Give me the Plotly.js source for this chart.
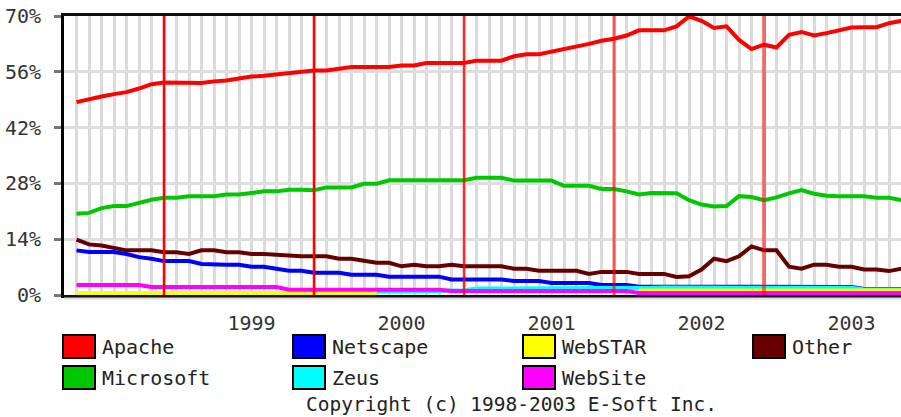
<!DOCTYPE html>
<html>
<head>
<meta charset="utf-8">
<script src="https://cdn.plot.ly/plotly-3.0.1.min.js"></script>
<style>html,body{margin:0;padding:0;background:#fff;}#chart{width:901px;height:417px;}</style>
</head>
<body>
<div id="chart"></div>
<script>
// ---- data (monthly samples, index 0 = first sample) ----
const apache = [48.4,49.2,49.8,50.4,50.9,51.8,52.9,53.3,53.2,53.2,53.2,53.6,53.8,54.3,54.8,55.0,55.3,55.6,56.1,56.3,56.3,56.8,57.2,57.2,57.2,57.2,57.6,57.6,58.2,58.2,58.2,58.2,58.8,58.8,58.8,59.9,60.4,60.4,61.0,61.7,62.2,63.0,63.8,64.3,65.1,66.4,66.4,66.4,67.4,69.9,68.8,67.0,67.4,64.0,61.7,62.8,62.1,65.3,66.0,65.1,65.7,66.3,67.1,67.2,67.2,68.2,68.8];
const microsoft = [20.4,20.6,21.8,22.3,22.3,23.1,23.9,24.4,24.4,24.8,24.8,24.8,25.2,25.2,25.6,26.0,26.0,26.4,26.4,26.3,27.0,27.0,27.0,27.9,27.9,28.8,28.8,28.8,28.8,28.8,28.8,28.8,29.4,29.4,29.4,28.7,28.7,28.7,28.7,27.4,27.4,27.4,26.6,26.6,26.0,25.2,25.6,25.6,25.5,23.8,22.7,22.2,22.3,24.8,24.6,23.8,24.5,25.5,26.3,25.4,24.9,24.8,24.8,24.8,24.4,24.4,23.8];
const netscape = [11.2,10.8,10.8,10.8,10.3,9.5,9.1,8.5,8.5,8.5,7.8,7.6,7.6,7.6,7.1,7.1,6.6,6.1,6.1,5.6,5.6,5.6,5.1,5.1,5.1,4.6,4.6,4.6,4.6,4.6,3.9,3.9,3.9,3.9,3.9,3.5,3.5,3.5,3.0,3.0,3.0,3.0,2.5,2.5,2.5,2.1,2.1,2.1,2.1,2.0,2.0,2.0,2.0,2.0,2.0,2.0,2.0,2.0,2.0,2.0,2.0,2.0,2.0,1.5,1.5,1.5,1.5];
const zeus = [null,null,null,null,null,null,null,null,null,null,null,null,null,null,null,null,null,null,null,null,null,null,null,null,0.8,0.8,0.9,0.9,1.0,1.0,1.1,1.2,1.6,1.6,1.6,1.6,1.6,1.6,1.6,1.6,1.6,1.6,1.6,1.6,1.7,1.8,1.8,1.9,1.9,1.9,1.8,1.8,1.8,1.8,1.8,1.8,1.8,1.8,1.8,1.8,1.8,1.8,1.8,1.4,1.4,1.4,1.4];
const webstar = [0.5,0.5,0.5,0.5,0.5,0.5,0.5,0.5,0.5,0.5,0.5,0.5,0.5,0.5,0.5,0.5,0.5,0.5,0.5,0.5,0.5,0.5,0.5,0.5,0.5,null,null,null,null,null,null,null,null,null,null,null,null,null,null,null,null,null,null,null,null,1.1,1.1,1.1,1.1,1.1,1.1,1.1,1.1,1.1,1.1,1.1,1.1,1.1,1.1,1.1,1.1,1.1,1.1,1.1,1.1,1.1,1.1];
const website = [2.5,2.5,2.5,2.5,2.5,2.5,2.0,2.0,2.0,2.0,2.0,2.0,2.0,2.0,2.0,2.0,2.0,1.3,1.3,1.3,1.3,1.3,1.3,1.3,1.3,1.3,1.3,1.3,1.3,1.3,1.0,1.0,1.0,1.0,1.0,1.0,1.0,1.0,1.0,1.0,1.0,1.0,1.0,1.0,1.0,0.5,0.5,0.5,0.5,0.5,0.5,0.5,0.5,0.5,0.5,0.5,0.5,0.5,0.5,0.5,0.5,0.5,0.5,0.5,0.5,0.5,0.5];
const other = [13.9,12.7,12.4,11.8,11.2,11.2,11.2,10.7,10.7,10.3,11.2,11.2,10.7,10.7,10.3,10.3,10.1,9.7,9.7,9.7,9.7,9.1,9.1,8.6,8.1,8.1,7.2,7.6,7.2,7.2,7.6,7.2,7.2,7.2,7.2,6.6,6.6,6.1,6.1,6.1,6.1,5.3,5.8,5.8,5.8,5.3,5.3,5.3,4.5,4.7,6.4,9.1,8.5,9.7,12.2,11.2,11.2,7.1,6.6,7.6,7.6,7.1,7.1,6.4,6.4,6.0,6.6];

const yearTickPos = [14, 26, 38, 50, 62];
const yearTickText = ['1999', '2000', '2001', '2002', '2003'];
const redMarks = [7, 19, 31, 43, 55];

const seriesNames = ['Apache', 'Microsoft', 'Netscape', 'Zeus', 'WebSTAR', 'WebSite', 'Other'];
const seriesData  = [apache, microsoft, netscape, zeus, webstar, website, other];

// ---- styles ----
const seriesColors = ['#ff0000', '#00c800', '#0000ff', '#00ffff', '#ffff00', '#ff00ff', '#660000'];
const drawOrder = [6, 2, 3, 4, 5, 1, 0];
const redStyles = [
  {c: 'rgba(255,0,0,1)', w: 2.5},
  {c: 'rgba(255,0,0,1)', w: 2.5},
  {c: 'rgba(255,0,0,0.8)', w: 2.5},
  {c: 'rgba(255,0,0,0.6)', w: 3},
  {c: 'rgba(255,0,0,0.5)', w: 4}
];

const W = 901, H = 417, L = 64, R = 0, T = 16, B = 122;
const px = x => (x - L) / (W - L - R);
const py = y => (H - B - y) / (H - T - B);
const FONT = 'DejaVu Sans Mono';

const xIdx = apache.map((_, i) => i);

const traces = drawOrder.map(k => ({
  type: 'scatter', mode: 'lines',
  x: xIdx, y: seriesData[k], name: seriesNames[k],
  line: {color: seriesColors[k], width: 4},
  connectgaps: false, showlegend: false, hoverinfo: 'skip'
}));

const shapes = redMarks.map((m, j) => ({
  type: 'line', xref: 'x', yref: 'paper', x0: m, x1: m, y0: 0, y1: 1,
  line: {color: redStyles[j].c, width: redStyles[j].w}, layer: 'above'
}));
// light band just under the bottom axis
shapes.push({type: 'line', xref: 'paper', yref: 'paper', x0: 0, x1: 1, y0: py(298.5), y1: py(298.5),
  line: {color: '#dddddd', width: 2}, layer: 'above'});
const annotations = [];

// legend grid: columns / rows
const legendCols = [63, 293, 523, 753];
const legendRows = [346.5, 377.5];
const legendLayout = [[0, 0], [0, 1], [1, 0], [1, 1], [2, 0], [2, 1], [3, 0]]; // [col,row] for each series
seriesNames.forEach((n, k) => {
  const [c, r] = legendLayout[k];
  const x0 = legendCols[c], yc = legendRows[r];
  shapes.push({type: 'rect', xref: 'paper', yref: 'paper',
    x0: px(x0), x1: px(x0 + 32), y0: py(yc + 11.5), y1: py(yc - 11.5),
    fillcolor: seriesColors[k], line: {color: '#000', width: 2}, layer: 'above'});
  annotations.push({xref: 'paper', yref: 'paper', x: px(x0 + 37), y: py(yc),
    xanchor: 'left', yanchor: 'middle', showarrow: false, text: n,
    font: {family: FONT, size: 20, color: '#222'}});
});
annotations.push({xref: 'paper', yref: 'paper', x: px(511), y: py(404.5),
  xanchor: 'center', yanchor: 'middle', showarrow: false,
  text: 'Copyright (c) 1998-2003 E-Soft Inc.',
  font: {family: FONT, size: 19.5, color: '#222'}});

const layout = {
  width: W, height: H,
  margin: {l: L, r: R, t: T, b: B, pad: 0},
  paper_bgcolor: '#ffffff', plot_bgcolor: '#ffffff',
  showlegend: false,
  xaxis: {
    range: [-1, 65.96], fixedrange: true,
    tickmode: 'array', tickvals: yearTickPos, ticktext: yearTickText,
    ticks: '', ticklabelstandoff: 8,
    tickfont: {family: FONT, size: 20, color: '#333'},
    showgrid: true, gridcolor: '#dadada', gridwidth: 3,
    minor: {tick0: 0, dtick: 1, showgrid: true, gridcolor: '#dadada', gridwidth: 3, ticks: ''},
    showline: true, linecolor: '#111', linewidth: 3, mirror: true,
    zeroline: false
  },
  yaxis: {
    range: [0, 70], fixedrange: true,
    tick0: 0, dtick: 14, ticksuffix: '%',
    ticks: 'outside', ticklen: 7, tickwidth: 3, tickcolor: '#777',
    ticklabelstandoff: 9,
    tickfont: {family: FONT, size: 20, color: '#333'},
    showgrid: true, gridcolor: '#dedede', gridwidth: 3,
    showline: true, linecolor: '#000', linewidth: 3,
    zeroline: false
  },
  shapes: shapes,
  annotations: annotations
};

Plotly.newPlot('chart', traces, layout, {staticPlot: true, displayModeBar: false});
</script>
</body>
</html>
